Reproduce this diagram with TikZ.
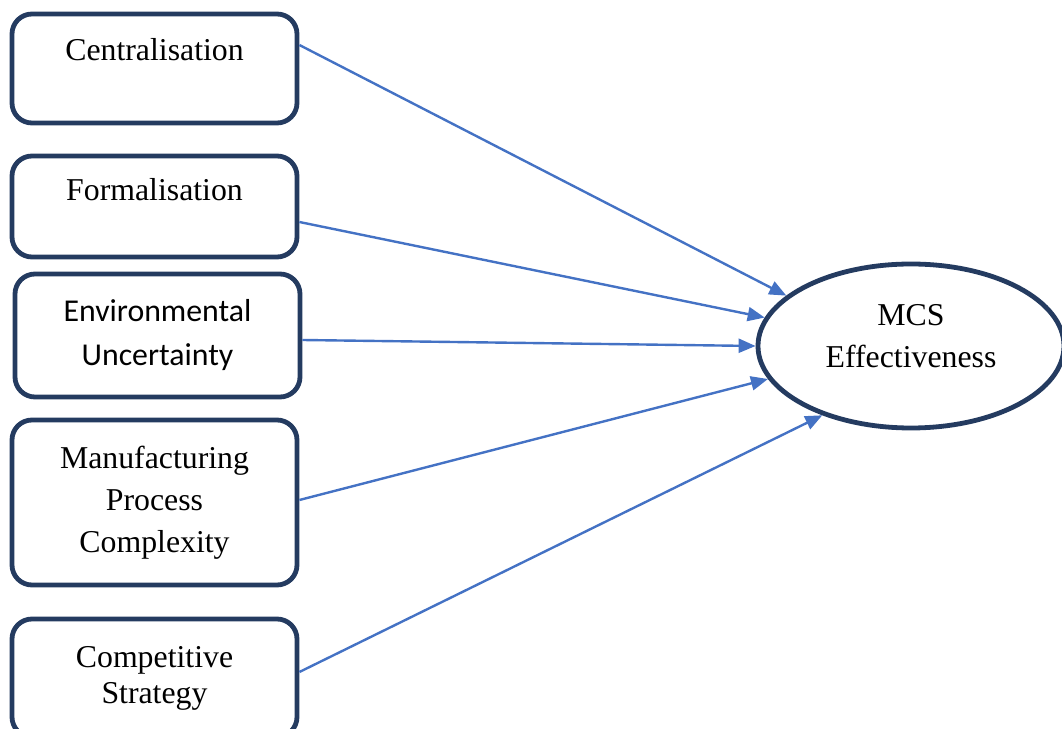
\documentclass[tikz,border=0pt]{standalone}
\usepackage{fontspec}
\setmainfont{Liberation Serif}
\newfontfamily\calibri{Carlito}
\usetikzlibrary{shapes,positioning,calc,arrows.meta}
\definecolor{darkblue}{RGB}{36,59,96}
\definecolor{linkblue}{RGB}{68,114,196}

\begin{document}
\begin{tikzpicture}
  [x=0.5pt,y=0.5pt,
   factorN/.style={rectangle,rounded corners=10pt,draw=darkblue,line width=2.4pt,
     minimum width=142.5pt,align=center,font=\fontsize{15.9}{21}\selectfont},
   outcomeN/.style={ellipse,draw=darkblue,line width=2.4pt,minimum width=153pt,
     minimum height=82pt,align=center,font=\fontsize{15.9}{21}\selectfont},
   link/.style={draw=linkblue,line width=1.2pt,-{Triangle[length=8.5pt,width=7pt]}}]

  \useasboundingbox (0,0) rectangle (1062,729);

  \path (154.5,660.5) node[factorN,minimum height=54.5pt,text height=11pt,text depth=18.7pt] (cent) {Centralisation}
        (154.5,522.5) node[factorN,minimum height=50.5pt,text height=11pt,text depth=16.7pt] (form) {Formalisation}
        (157.5,393.5) node[factorN,minimum height=61.5pt,font=\calibri\fontsize{15.9}{22}\selectfont] (envu) {Environmental\\Uncertainty}
        (154.5,226.5) node[factorN,minimum height=82.5pt] (mpc) {Manufacturing\\Process\\Complexity}
        (154.5,51)    node[factorN,minimum height=59pt,font=\fontsize{15.9}{18}\selectfont] (comp) {Competitive\\Strategy};

  \node[outcomeN,text depth=10pt] (mcs) at (911,383) {MCS\\Effectiveness};

  \draw [link] ([yshift=11.75pt]cent.east) -- (mcs.158.7);
  \draw [link] ([yshift=-7.75pt]form.east) -- (mcs.169);
  \draw [link] ([yshift=-2.25pt]envu.east) -- (mcs.180);
  \draw [link] ([yshift=1.25pt]mpc.east) -- (mcs.193.8);
  \draw [link] ([yshift=3pt]comp.east) -- (mcs.218.7);

\end{tikzpicture}
\end{document}
